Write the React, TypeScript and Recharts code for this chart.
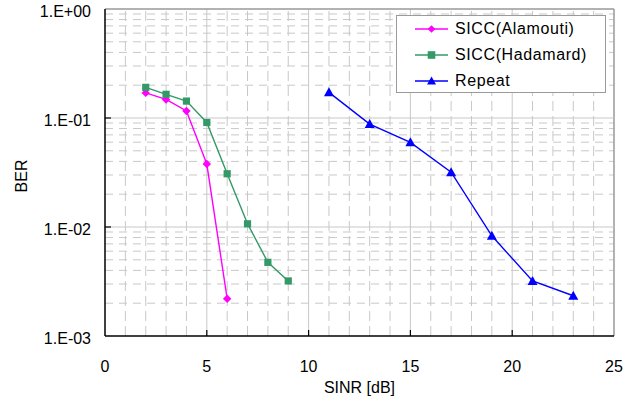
import React from 'react';
import { LineChart, Line, XAxis, YAxis, ReferenceLine, Legend } from 'recharts';

const alamoutiX = [2, 3, 4, 5, 6];
const alamoutiBER = [0.17, 0.148, 0.116, 0.0378, 0.0022];
const hadamardX = [2, 3, 4, 5, 6, 7, 8, 9];
const hadamardBER = [0.191, 0.165, 0.143, 0.091, 0.0308, 0.0107, 0.00474, 0.0032];
const repeatX = [11, 13, 15, 17, 19, 21, 23];
const repeatBER = [0.172, 0.088, 0.0598, 0.0318, 0.0083, 0.0032, 0.00234];

const xTicks = [0, 5, 10, 15, 20, 25];
const yTicks = [0.001, 0.01, 0.1, 1];
const yTickLabels = ['1.E-03', '1.E-02', '1.E-01', '1.E+00'];
const xMinorGrid = [1, 2, 3, 4, 6, 7, 8, 9, 11, 12, 13, 14, 16, 17, 18, 19, 21, 22, 23, 24];
const xMajorGrid = [5, 10, 15, 20, 25];
const yMinorMultipliers = [2, 3, 4, 5, 6, 7, 8, 9];
const yDecades = [0.001, 0.01, 0.1];
const yMajorGrid = [0.01, 0.1, 1];

const seriesNames = ['SICC(Alamouti)', 'SICC(Hadamard)', 'Repeat'];
const colors = ['#ff00ff', '#339966', '#0000ff'];

const toPoints = (xs: number[], ys: number[]) => xs.map((x, i) => ({ x, y: ys[i] }));
const alamoutiData = toPoints(alamoutiX, alamoutiBER);
const hadamardData = toPoints(hadamardX, hadamardBER);
const repeatData = toPoints(repeatX, repeatBER);

const yMinorGrid: number[] = [];
yDecades.forEach((d) => yMinorMultipliers.forEach((m) => yMinorGrid.push(+(d * m).toPrecision(3))));

const FONT = '"Liberation Sans", Arial, sans-serif';
const GRID = '#c8c8c8';

const Diamond = (props: any) => {
  const { cx, cy, fill, size = 4.2 } = props;
  if (cx == null || cy == null) return <g />;
  return <path d={`M${cx},${cy - size} L${cx + size},${cy} L${cx},${cy + size} L${cx - size},${cy} Z`} fill={fill} />;
};
const Square = (props: any) => {
  const { cx, cy, fill, size = 3.6 } = props;
  if (cx == null || cy == null) return <g />;
  return <rect x={cx - size} y={cy - size} width={size * 2} height={size * 2} fill={fill} />;
};
const Triangle = (props: any) => {
  const { cx, cy, fill, size = 5 } = props;
  if (cx == null || cy == null) return <g />;
  return <path d={`M${cx},${cy - size} L${cx + size},${cy + size * 0.8} L${cx - size},${cy + size * 0.8} Z`} fill={fill} />;
};
const markers = [Diamond, Square, Triangle];
const legendRowCenters = [13.7, 39.7, 66];

const LegendBox = () => (
  <div
    style={{
      position: 'relative',
      width: 210,
      height: 78,
      boxSizing: 'border-box',
      border: '1px solid #9a9a9a',
      background: '#fff',
      fontFamily: FONT,
      fontSize: 16,
      color: '#000',
    }}
  >
    {seriesNames.map((name, i) => {
      const M = markers[i];
      return (
        <div
          key={name}
          style={{ position: 'absolute', left: 17, top: legendRowCenters[i] - 12, height: 22, display: 'flex', alignItems: 'center' }}
        >
          <svg width={36} height={22} style={{ display: 'block' }}>
            <line x1={1} x2={34} y1={11} y2={11} stroke={colors[i]} strokeWidth={1.4} />
            <M cx={17.5} cy={11} fill={colors[i]} size={i === 2 ? 4.5 : 3.8} />
          </svg>
          <span style={{ marginLeft: 5, letterSpacing: 0.6, whiteSpace: 'nowrap', lineHeight: '22px' }}>{name}</span>
        </div>
      );
    })}
  </div>
);

const YTick = (props: any) => {
  const { x, y, payload } = props;
  const idx = yTicks.indexOf(payload.value);
  const axisX = x + 14;
  return (
    <g>
      {payload.value !== 1 && payload.value !== 0.001 && (
        <line x1={axisX} x2={axisX + 6} y1={y} y2={y} stroke="#000" strokeWidth={1.2} />
      )}
      <text x={x} y={y} dy={8} textAnchor="end" fontFamily={FONT} fontSize={16} fill="#000">
        {idx >= 0 ? yTickLabels[idx] : ''}
      </text>
    </g>
  );
};
const XTick = (props: any) => {
  const { x, y, payload } = props;
  return (
    <g>
      {payload.value !== 0 && payload.value !== 25 && (
        <line x1={x} x2={x} y1={y} y2={y - 6} stroke="#000" strokeWidth={1.2} />
      )}
      <text x={x} y={y + 36} textAnchor="middle" fontFamily={FONT} fontSize={16} fill="#000">
        {payload.value}
      </text>
    </g>
  );
};

export default function App() {
  return (
    <div style={{ position: 'absolute', left: 0, top: 0, background: '#fff' }}>
      <LineChart width={642} height={400} margin={{ top: 9, right: 28, bottom: 24, left: 10 }}>
        {xMinorGrid.map((v) => (
          <ReferenceLine key={'xm' + v} x={v} stroke={GRID} strokeDasharray="10 5" strokeWidth={1} />
        ))}
        {yMinorGrid.map((v) => (
          <ReferenceLine key={'ym' + v} y={v} stroke={GRID} strokeDasharray="8 6" strokeWidth={1} />
        ))}
        {xMajorGrid.map((v) => (
          <ReferenceLine key={'xM' + v} x={v} stroke={v === 25 ? '#999' : GRID} strokeWidth={v === 25 ? 1.5 : 1} />
        ))}
        {yMajorGrid.map((v) => (
          <ReferenceLine key={'yM' + v} y={v} stroke={v === 1 ? '#999' : GRID} strokeWidth={v === 1 ? 1.5 : 1} />
        ))}
        <XAxis
          type="number"
          dataKey="x"
          domain={[0, 25]}
          ticks={xTicks}
          allowDataOverflow
          height={40}
          tickSize={0}
          tickMargin={0}
          tickLine={false}
          axisLine={{ stroke: '#000', strokeWidth: 1.5 }}
          tick={<XTick />}
          label={{
            content: (p: any) => {
              const vb = p.viewBox;
              return (
                <text x={vb.x + vb.width / 2} y={393} textAnchor="middle" fontFamily={FONT} fontSize={16} fill="#000">
                  SINR [dB]
                </text>
              );
            },
          }}
        />
        <YAxis
          type="number"
          dataKey="y"
          scale="log"
          domain={[0.001, 1]}
          ticks={yTicks}
          allowDataOverflow
          width={95}
          tickSize={0}
          tickMargin={14}
          tickLine={false}
          axisLine={{ stroke: '#000', strokeWidth: 1.5 }}
          tick={<YTick />}
          label={{
            content: () => (
              <text x={27} y={176} transform="rotate(-90 27 176)" textAnchor="middle" fontFamily={FONT} fontSize={16} fill="#000">
                BER
              </text>
            ),
          }}
        />
        <Line
          data={alamoutiData}
          dataKey="y"
          name={seriesNames[0]}
          stroke={colors[0]}
          strokeWidth={1.4}
          isAnimationActive={false}
          dot={(p: any) => <Diamond key={'a' + p.index} cx={p.cx} cy={p.cy} fill={colors[0]} />}
          activeDot={false}
        />
        <Line
          data={hadamardData}
          dataKey="y"
          name={seriesNames[1]}
          stroke={colors[1]}
          strokeWidth={1.4}
          isAnimationActive={false}
          dot={(p: any) => <Square key={'h' + p.index} cx={p.cx} cy={p.cy} fill={colors[1]} />}
          activeDot={false}
        />
        <Line
          data={repeatData}
          dataKey="y"
          name={seriesNames[2]}
          stroke={colors[2]}
          strokeWidth={1.4}
          isAnimationActive={false}
          dot={(p: any) => <Triangle key={'r' + p.index} cx={p.cx} cy={p.cy} fill={colors[2]} />}
          activeDot={false}
        />
        <Legend
          layout="vertical"
          align="center"
          verticalAlign="middle"
          content={() => <LegendBox />}
          wrapperStyle={{ position: 'absolute', left: 396, top: 15, width: 210, height: 78, bottom: 'auto', right: 'auto', margin: 0 }}
        />
      </LineChart>
    </div>
  );
}
